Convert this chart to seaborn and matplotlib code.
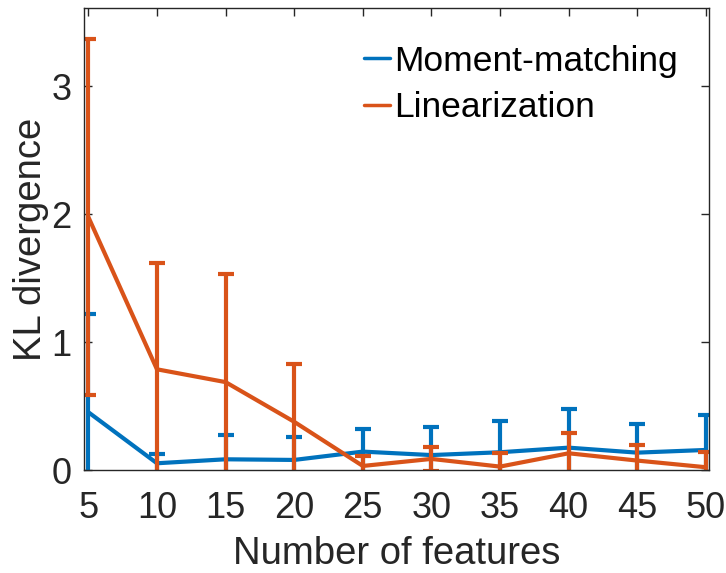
import matplotlib
matplotlib.use("Agg")
import matplotlib.pyplot as plt
import numpy as np
import pandas as pd
import seaborn as sns

features = [5, 10, 15, 20, 25, 30, 35, 40, 45, 50]
mm_mean = [0.455, 0.056, 0.087, 0.082, 0.147, 0.120, 0.142, 0.178, 0.139, 0.160]
mm_err = [0.765, 0.074, 0.193, 0.178, 0.173, 0.220, 0.245, 0.302, 0.224, 0.270]
lin_mean = [1.98, 0.79, 0.69, 0.38, 0.035, 0.090, 0.030, 0.134, 0.077, 0.025]
lin_err = [1.39, 0.83, 0.845, 0.45, 0.078, 0.095, 0.110, 0.161, 0.123, 0.122]

series_names = ["Moment-matching", "Linearization"]
colors = ["#0072BD", "#D95319"]

sns.set_theme(style="ticks")
plt.rcParams["font.family"] = ["Liberation Sans", "DejaVu Sans"]

df = pd.DataFrame({
    "features": features * 2,
    "kl": mm_mean + lin_mean,
    "method": [series_names[0]] * len(features) + [series_names[1]] * len(features),
})

fig = plt.figure(figsize=(7.26, 5.73), dpi=100)
ax = fig.add_axes([0.116, 0.179, 0.861, 0.8065])

for name, col, mean, err in zip(series_names, colors, [mm_mean, lin_mean], [mm_err, lin_err]):
    sub = df[df["method"] == name]
    sns.lineplot(data=sub, x="features", y="kl", color=col, lw=3.0, ax=ax,
                 label=name)
    ax.errorbar(features, mean, yerr=err, fmt="none", ecolor=col,
                elinewidth=3.0, capsize=6, capthick=3.0)

ax.set_xlim(4.7, 50.25)
ax.set_ylim(0, 3.61)
ax.set_xticks(features)
ax.set_yticks([0, 1, 2, 3])
ax.set_xlabel("Number of features", fontsize=27.5, color="#262626", labelpad=7)
ax.set_ylabel("KL divergence", fontsize=27.5, color="#262626", labelpad=2)

ax.tick_params(direction="in", length=6, width=1.0, top=True, right=True,
               labelsize=26, colors="#262626")
ax.tick_params(axis="x", pad=15)
ax.tick_params(axis="y", pad=9)
for s in ax.spines.values():
    s.set_color("#262626")
    s.set_linewidth(1.0)

leg = ax.legend(loc="upper right", frameon=False, fontsize=25.5, handlelength=0.75,
                handletextpad=0.1, labelspacing=0.38, borderaxespad=0.5,
                bbox_to_anchor=(1.0, 0.99))
for t in leg.get_texts():
    t.set_color("black")
for h in leg.get_lines():
    h.set_linewidth(2.5)

fig.savefig("out.png", dpi=100)
